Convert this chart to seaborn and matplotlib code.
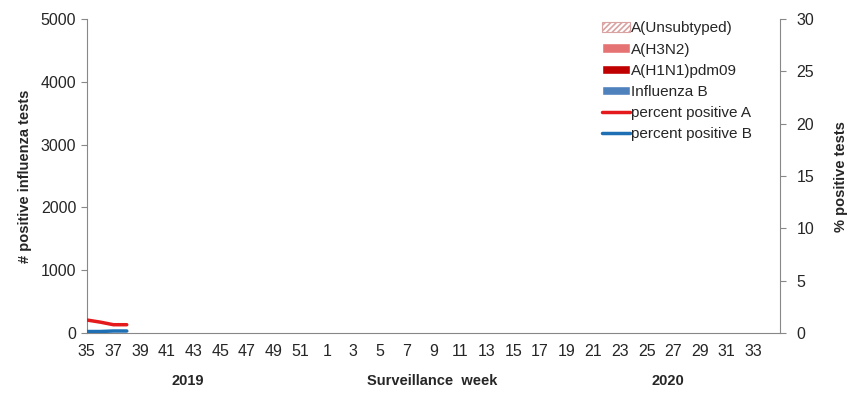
import numpy as np
import pandas as pd
import matplotlib
matplotlib.use("Agg")
import matplotlib.pyplot as plt
import seaborn as sns
from matplotlib.patches import Patch
from matplotlib.lines import Line2D

weeks = list(range(35, 53)) + list(range(1, 35))
unsubtyped = [10, 8, 12, 14]
h3n2 = [8, 6, 9, 11]
h1n1 = [2, 1, 2, 3]
flu_b = [5, 6, 8, 9]
pct_a = [1.25, 1.05, 0.8, 0.8]
pct_b = [0.15, 0.15, 0.2, 0.2]

sns.set_style("white")
plt.rcParams["font.family"] = ["Liberation Sans", "DejaVu Sans"]
plt.rcParams["hatch.linewidth"] = 1.2

n = len(weeks)
df = pd.DataFrame({"idx": np.arange(len(pct_a)), "h1n1": h1n1, "h3n2": h3n2,
                   "uns": unsubtyped, "b": flu_b, "pa": pct_a, "pb": pct_b})

fig, ax = plt.subplots(figsize=(8.59, 3.97), dpi=100)
fig.subplots_adjust(left=0.101, right=0.908, top=0.952, bottom=0.161)

c_uns = "#d9a3a1"
c_h3 = "#e57373"
c_h1 = "#c00000"
c_b = "#4f81bd"

x = df["idx"] + 0.5
ax.bar(x, df["h1n1"], width=0.8, color=c_h1)
ax.bar(x, df["h3n2"], width=0.8, bottom=df["h1n1"], color=c_h3)
ax.bar(x, df["uns"], width=0.8, bottom=df["h1n1"] + df["h3n2"], color="white",
       edgecolor=c_uns, hatch="//////", linewidth=0)
ax.bar(x, df["b"], width=0.8, bottom=df["h1n1"] + df["h3n2"] + df["uns"], color=c_b)

ax.set_xlim(0, n)
ax.set_ylim(0, 5000)
ax.set_yticks(range(0, 5001, 1000))
ax.set_xticks(np.arange(0, n, 2))
ax.set_xticklabels([str(w) for w in weeks[::2]], fontsize=11.5)
ax.set_xticks(np.arange(n + 1), minor=True)
ax.tick_params(axis="x", which="both", direction="in", length=5, color="#888888", pad=8)
ax.tick_params(axis="x", which="major", length=0)
ax.tick_params(axis="y", labelsize=11.5, length=4, color="#888888", direction="out")
ax.set_ylabel("# positive influenza tests", fontsize=10.5, fontweight="bold", labelpad=6)
for s in ["left", "bottom"]:
    ax.spines[s].set_color("#888888")
ax.spines["top"].set_visible(False)
ax.spines["right"].set_visible(False)

ax2 = ax.twinx()
sns.lineplot(x=x - 0.5, y=df["pa"], ax=ax2, color="#e41a1c", linewidth=2.5)
sns.lineplot(x=x - 0.5, y=df["pb"], ax=ax2, color="#1f6fb4", linewidth=2.5)
ax2.set_ylim(0, 30)
ax2.set_xlim(0, n)
ax2.set_yticks(range(0, 31, 5))
ax2.tick_params(axis="y", labelsize=11.5, length=4, color="#888888", direction="out", pad=8)
ax2.set_ylabel("% positive tests", fontsize=10.5, fontweight="bold", labelpad=14)
ax2.spines["right"].set_color("#888888")
for s in ["top", "left", "bottom"]:
    ax2.spines[s].set_visible(False)

handles = [
    Patch(facecolor="white", edgecolor=c_uns, hatch="//////", linewidth=0.8, label="A(Unsubtyped)"),
    Patch(facecolor=c_h3, label="A(H3N2)"),
    Patch(facecolor=c_h1, label="A(H1N1)pdm09"),
    Patch(facecolor=c_b, label="Influenza B"),
    Line2D([], [], color="#e41a1c", linewidth=2.5, label="percent positive A"),
    Line2D([], [], color="#1f6fb4", linewidth=2.5, label="percent positive B"),
]
ax2.legend(handles=handles, loc="upper left", bbox_to_anchor=(0.735, 1.012), frameon=False,
           fontsize=11, handlelength=1.8, handleheight=0.6, handletextpad=0.05,
           labelspacing=0.47, borderaxespad=0)

fig.text(0.218, 0.03, "2019", fontsize=10.5, fontweight="bold", ha="center")
fig.text(0.503, 0.03, "Surveillance  week", fontsize=10.5, fontweight="bold", ha="center")
fig.text(0.777, 0.03, "2020", fontsize=10.5, fontweight="bold", ha="center")

fig.savefig("out.png", dpi=100)
